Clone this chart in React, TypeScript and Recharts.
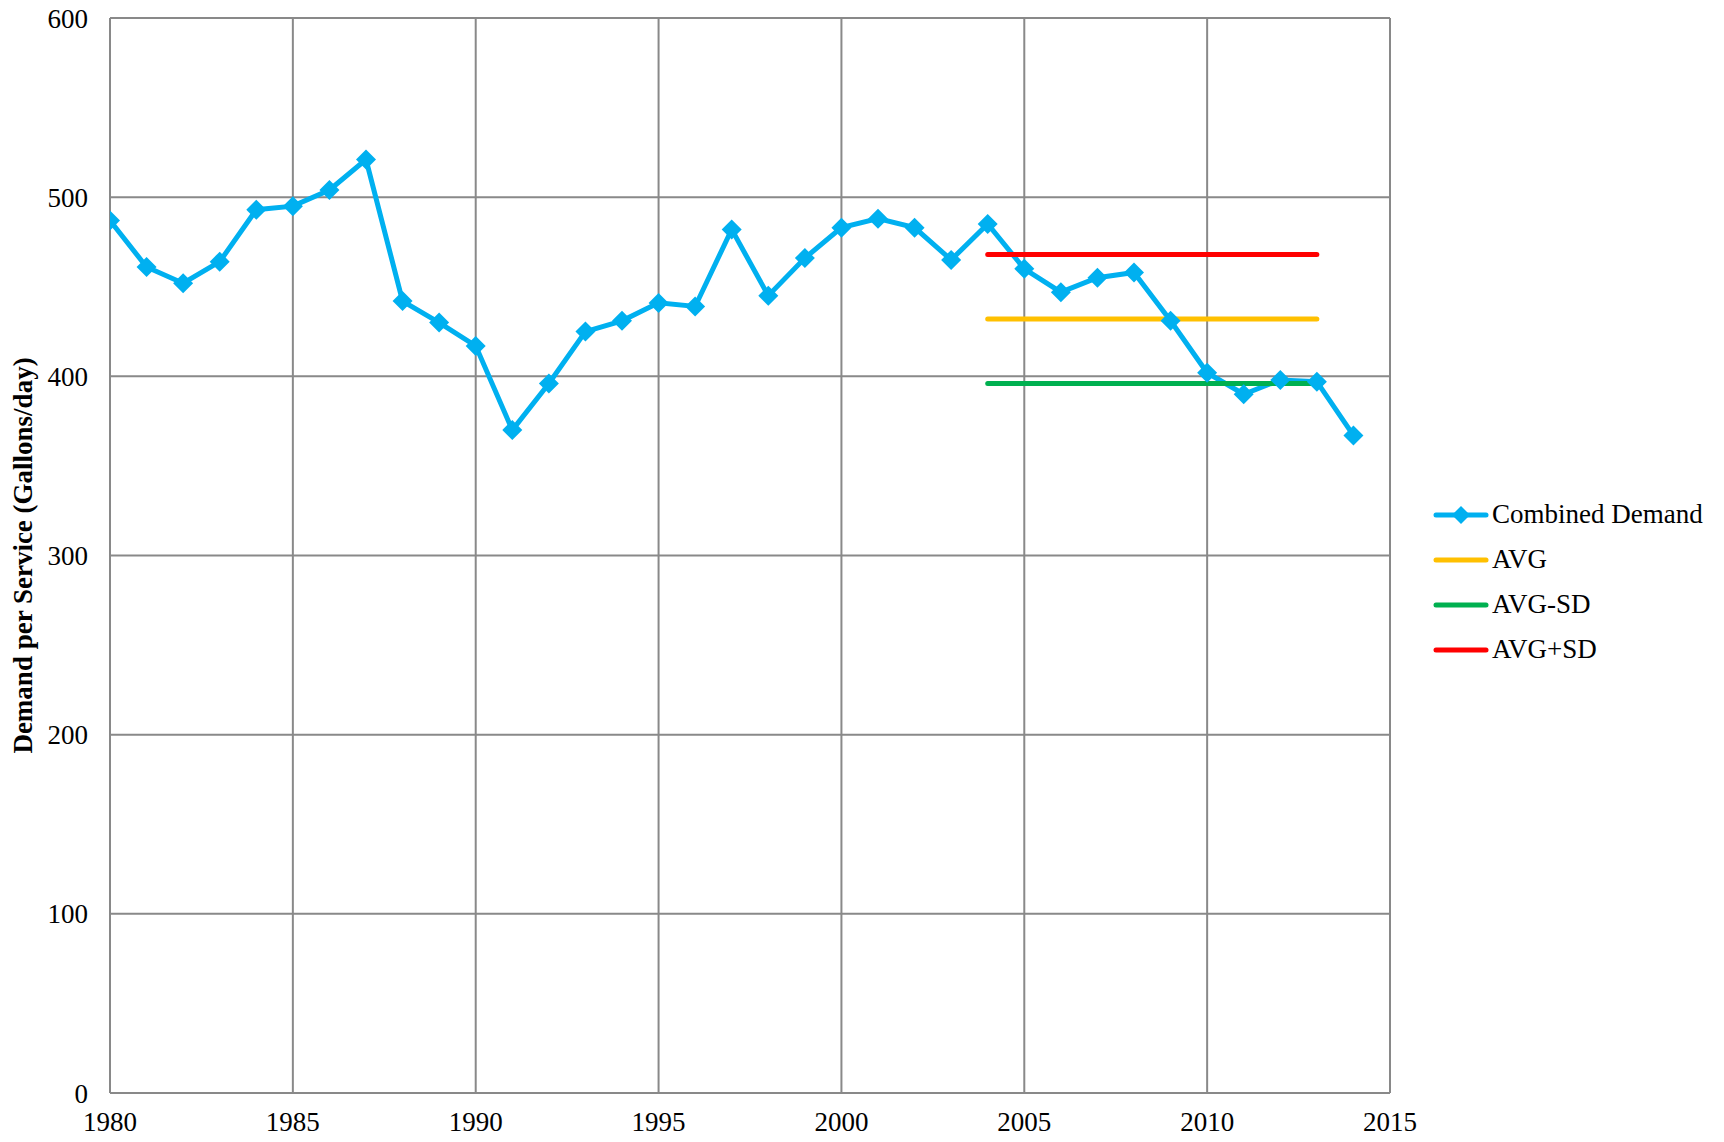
import { LineChart, Line, XAxis, YAxis, CartesianGrid, Legend, Label } from "recharts";

const years = [
  1980, 1981, 1982, 1983, 1984, 1985, 1986, 1987, 1988, 1989, 1990, 1991,
  1992, 1993, 1994, 1995, 1996, 1997, 1998, 1999, 2000, 2001, 2002, 2003,
  2004, 2005, 2006, 2007, 2008, 2009, 2010, 2011, 2012, 2013, 2014,
];

const combinedDemand = [
  487, 461, 452, 464, 493, 495, 504, 521, 442, 430, 417, 370,
  396, 425, 431, 441, 439, 482, 445, 466, 483, 488, 483, 465,
  485, 460, 447, 455, 458, 431, 402, 390, 398, 397, 367,
];

// averaging window and its stats
const statStart = 2004;
const statEnd = 2013;
const avgValue = 432;
const avgMinusSd = 396;
const avgPlusSd = 468;

const xTicks = [1980, 1985, 1990, 1995, 2000, 2005, 2010, 2015];
const yTicks = [0, 100, 200, 300, 400, 500, 600];

const series = [
  { key: "combined", name: "Combined Demand", color: "#00B0F0", marker: true },
  { key: "avg", name: "AVG", color: "#FFC000", marker: false },
  { key: "avgMinus", name: "AVG-SD", color: "#00B050", marker: false },
  { key: "avgPlus", name: "AVG+SD", color: "#FF0000", marker: false },
];

const data = years.map((year, i) => {
  const inWindow = year >= statStart && year <= statEnd;
  return {
    year,
    combined: combinedDemand[i],
    avg: inWindow ? avgValue : null,
    avgMinus: inWindow ? avgMinusSd : null,
    avgPlus: inWindow ? avgPlusSd : null,
  };
});

const FONT = "'Liberation Serif', 'Times New Roman', serif";
const GRID = "#898989";
const FS = 27;

const Diamond = (props: any) => {
  const { cx, cy } = props;
  if (cx == null || cy == null) return null;
  const r = 10;
  return (
    <polygon
      points={`${cx},${cy - r} ${cx + r},${cy} ${cx},${cy + r} ${cx - r},${cy}`}
      fill="#00B0F0"
    />
  );
};

const LegendBox = () => (
  <div style={{ fontFamily: FONT, fontSize: FS, color: "#000" }}>
    {series.map((s) => (
      <div key={s.key} style={{ display: "flex", alignItems: "center", height: 45 }}>
        <svg width={58} height={24} style={{ marginRight: 2 }}>
          <line x1={4} y1={12} x2={54} y2={12} stroke={s.color} strokeWidth={5} strokeLinecap="round" />
          {s.marker && <polygon points="29,3 38,12 29,21 20,12" fill={s.color} />}
        </svg>
        <span style={{ whiteSpace: "nowrap" }}>{s.name}</span>
      </div>
    ))}
  </div>
);

const AxisTitle = (props: any) => {
  const vb = props.viewBox || {};
  const x = 23;
  const y = (vb.y ?? 0) + (vb.height ?? 0) / 2;
  return (
    <text
      x={x}
      y={y}
      transform={`rotate(-90, ${x}, ${y})`}
      textAnchor="middle"
      dominantBaseline="central"
      fontFamily={FONT}
      fontSize={FS}
      fontWeight="bold"
      fill="#000"
    >
      Demand per Service (Gallons/day)
    </text>
  );
};

export default function App() {
  return (
    <div style={{ position: "absolute", left: 0, top: 0, background: "#fff" }}>
      <LineChart
        width={1724}
        height={1142}
        data={data}
        margin={{ top: 18, right: 334, bottom: 0, left: 0 }}
      >
        <CartesianGrid stroke={GRID} strokeWidth={2} />
        <XAxis
          dataKey="year"
          type="number"
          domain={[1980, 2015]}
          ticks={xTicks}
          allowDataOverflow
          tickLine={false}
          tickSize={0}
          tickMargin={19}
          height={49}
          axisLine={{ stroke: GRID, strokeWidth: 2 }}
          tick={{ fill: "#000", fontSize: FS, fontFamily: FONT }}
          interval={0}
        />
        <YAxis
          type="number"
          domain={[0, 600]}
          ticks={yTicks}
          width={110}
          tickLine={false}
          tickSize={0}
          tickMargin={22}
          axisLine={{ stroke: GRID, strokeWidth: 2 }}
          tick={{ fill: "#000", fontSize: FS, fontFamily: FONT }}
          interval={0}
        >
          <Label content={<AxisTitle />} />
        </YAxis>
        <Legend
          layout="vertical"
          align="center"
          verticalAlign="middle"
          wrapperStyle={{ left: 1432, top: 492, width: 290 }}
          content={<LegendBox />}
        />
        <Line
          dataKey="combined"
          name="Combined Demand"
          stroke="#00B0F0"
          strokeWidth={5}
          dot={<Diamond />}
          activeDot={false}
          isAnimationActive={false}
        />
        <Line
          dataKey="avg"
          name="AVG"
          stroke="#FFC000"
          strokeWidth={5}
          strokeLinecap="round"
          dot={false}
          activeDot={false}
          isAnimationActive={false}
        />
        <Line
          dataKey="avgMinus"
          name="AVG-SD"
          stroke="#00B050"
          strokeWidth={5}
          strokeLinecap="round"
          dot={false}
          activeDot={false}
          isAnimationActive={false}
        />
        <Line
          dataKey="avgPlus"
          name="AVG+SD"
          stroke="#FF0000"
          strokeWidth={5}
          strokeLinecap="round"
          dot={false}
          activeDot={false}
          isAnimationActive={false}
        />
      </LineChart>
    </div>
  );
}
